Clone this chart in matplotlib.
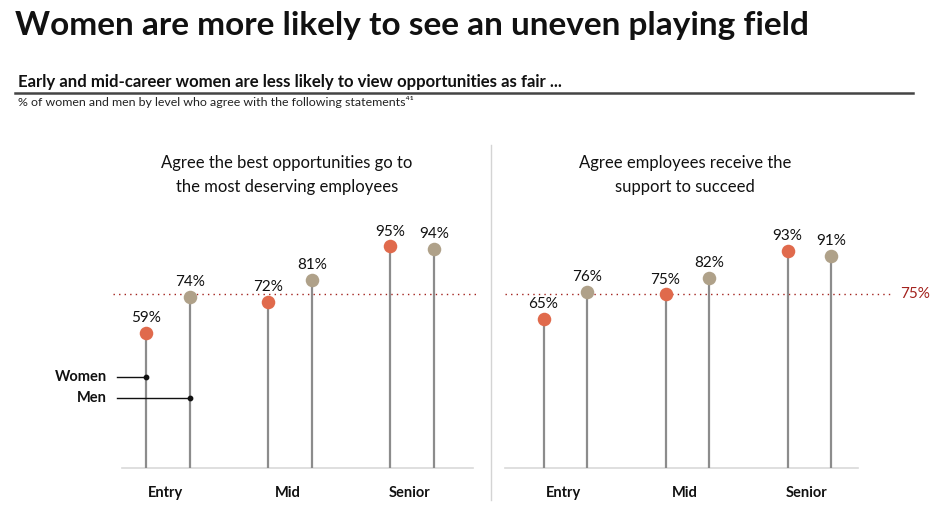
import numpy as np
import matplotlib
matplotlib.use("Agg")
import matplotlib.pyplot as plt

# data
levels = ["Entry", "Mid", "Senior"]
fair_women = [59, 72, 95]
fair_men = [74, 81, 94]
support_women = [65, 75, 93]
support_men = [76, 82, 91]
benchmark = 75

titles = ["Agree the best opportunities go to\nthe most deserving employees",
          "Agree employees receive the\nsupport to succeed"]

WOMEN = "#E06A4C"
MEN = "#AFA189"
STEM = "#8C8C8C"
REF = "#A3221D"

plt.rcParams["font.family"] = ["Lato", "DejaVu Sans"]

W, H = 953, 517
fig = plt.figure(figsize=(W / 100, H / 100), dpi=100)


def px(x, y):
    return x / W, 1 - y / H


def fit_text(x, y, s, width, **kw):
    # shrink/grow fontsize so the text spans the given pixel width
    t = fig.text(*px(x, y), s, **kw)
    r = fig.canvas.get_renderer()
    w = t.get_window_extent(r).width
    t.set_fontsize(t.get_fontsize() * width / w)
    return t


fit_text(15, 25, "Women are more likely to see an uneven playing field", 793,
         fontsize=22, fontweight="bold", va="center", color="#111111")
fit_text(18, 82, "Early and mid-career women are less likely to view opportunities as fair ...", 544,
         fontsize=11, fontweight="bold", va="center", color="#111111")
fig.add_artist(plt.Line2D([15 / W, 913 / W], [1 - 93 / H] * 2, color="#444444", lw=1.8))
fit_text(18, 102, "% of women and men by level who agree with the following statements\u2074\u00b9", 396,
         fontsize=7.5, va="center", color="#222222")

# separator between the two panels
fig.add_artist(plt.Line2D([491 / W] * 2, [1 - 145 / H, 1 - 500 / H], color="#d4d4d4", lw=1))

spacing = 122.0     # pixels per group
offset = 0.18       # half distance between women/men stems (group units)
ybot, ytop = 3, 100
ppp = 2.41          # pixels per percentage point
ax_top_px = 468 - ppp * (ytop - ybot)

panels = [
    dict(left=113, right=476, c0=168, base_l=122, base_r=473, title_x=287,
         women=fair_women, men=fair_men, line_r=476, label=False),
    dict(left=505, right=893, c0=565.5, base_l=505, base_r=858, title_x=685,
         women=support_women, men=support_men, line_r=893, label=True),
]

for i, p in enumerate(panels):
    ax = fig.add_axes([p["left"] / W, (H - 468) / H,
                       (p["right"] - p["left"]) / W, (468 - ax_top_px) / H])
    to_u = lambda xp, c0=p["c0"]: (xp - c0) / spacing
    ax.set_xlim(to_u(p["left"]), to_u(p["right"]))
    ax.set_ylim(ybot, ytop)
    ax.axis("off")

    x = np.arange(len(levels))
    # baseline
    ax.plot([to_u(p["base_l"]), to_u(p["base_r"])], [ybot, ybot], color="#d9d9d9", lw=1.2,
            clip_on=False, zorder=1)
    # benchmark line
    ax.plot([to_u(p["left"]), to_u(p["line_r"])], [benchmark, benchmark], color=REF, lw=1,
            ls=(0, (1, 3)), clip_on=False, zorder=1)
    if p["label"]:
        ax.text(to_u(p["line_r"]) + 0.06, benchmark, f"{benchmark}%", color=REF, fontsize=11,
                va="center", ha="left", clip_on=False)

    for xs, vals, col in [(x - offset, p["women"], WOMEN), (x + offset, p["men"], MEN)]:
        ax.vlines(xs, ybot, vals, color=STEM, lw=1.6, zorder=2)
        ax.scatter(xs, vals, s=95, color=col, zorder=3, linewidths=0, clip_on=False)
        for xi, v in zip(xs, vals):
            ax.annotate(f"{v}%", (xi, v), xytext=(0, 5.5), textcoords="offset points",
                        ha="center", va="bottom", fontsize=11, color="#111111")

    for xi, lab in zip(x, levels):
        ax.text(xi - 0.02, ybot - 10.5, lab, ha="center", va="center", fontsize=10.5,
                fontweight="bold", clip_on=False, color="#111111")

    fig.text(*px(p["title_x"], 175), titles[i], ha="center", va="center", fontsize=12,
             linespacing=1.65, color="#111111")

    if i == 0:
        # legend callouts
        for name, xs, ypx in [("Women", -offset, 377), ("Men", offset, 398)]:
            yv = ybot + (468 - ypx) / ppp
            ax.plot([to_u(117), xs], [yv, yv], color="#111111", lw=1, clip_on=False, zorder=4)
            ax.scatter([xs], [yv], s=10, color="#111111", zorder=5, clip_on=False)
            ax.text(to_u(107), yv, name, ha="right", va="center", fontsize=10.5,
                    fontweight="bold", clip_on=False, color="#111111")

fig.savefig("out.png", dpi=100)
